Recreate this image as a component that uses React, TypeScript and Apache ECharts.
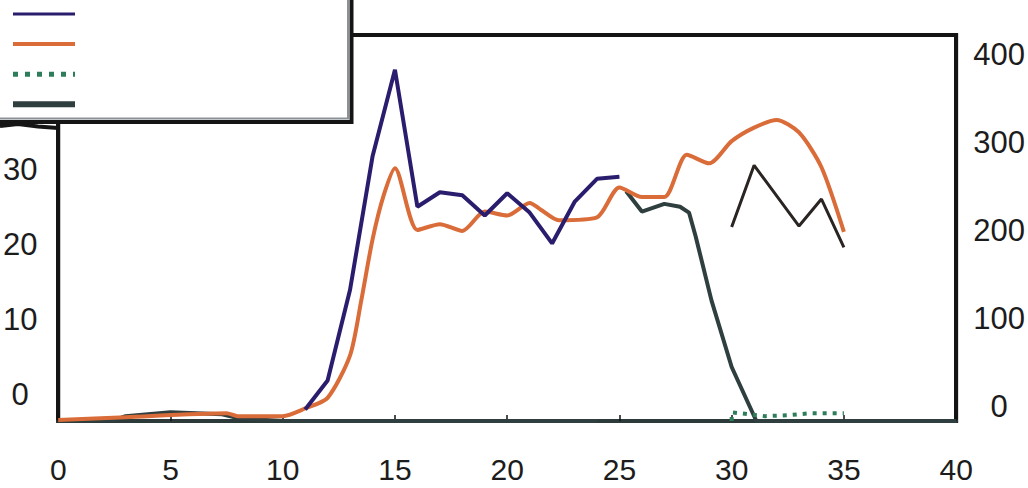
import { useEffect, useRef } from 'react';
import * as echarts from 'echarts';

// ---- data ----
const xLabelValues = [0, 5, 10, 15, 20, 25, 30, 35, 40];
const leftLabelValues = [0, 10, 20, 30, 40];
const rightLabelValues = [0, 100, 200, 300, 400];

const seriesNames = ['Series A', 'Series B', 'Series C', 'Series D', 'Series E'];

const navyX = [11, 12, 13, 14, 15, 16, 17, 18, 19, 20, 21, 22, 23, 24, 25];
const navyY = [12, 42, 136, 274, 364, 222, 237, 234, 213, 236, 216, 184, 227, 251, 253];

const orangeX = [0, 3, 7.5, 8, 10, 11, 12, 13, 13.5, 14, 14.5, 15, 16, 17, 18, 19, 20, 21, 21.5, 22.3, 24, 25, 26, 27, 28, 29, 30, 31, 32, 33, 34, 35];
const orangeY = [1, 4, 8, 5, 5, 13, 24, 68, 125, 188, 234, 262, 198, 204, 197, 217, 213, 226, 219, 208, 211, 242, 232, 232, 276, 267, 290, 304, 312, 299, 263, 196];

const greenX = [30, 30, 31.5, 32.5, 33.5, 35];
const greenY = [0, 9, 5, 6, 8, 8];

const slateX = [0, 2.5, 3, 5, 7.3, 8, 10, 24, 24.5, 25.3, 26, 27, 27.7, 28.1, 28.4, 29.1, 30, 31.1, 35, 40];
const slateY: (number | string)[] = [0, 1, 5, 9, 7, 3, 0, 0, '-', 238, 217, 225, 222, 216, 191, 125, 56, 0, 0, 0];

const blackX = [30, 31, 33, 34, 35];
const blackY = [201, 265, 202, 230, 180];

const pairs = (xs: number[], ys: (number | string)[]) => xs.map((x, i) => [x, ys[i]]);

const FONT = '"Liberation Sans", Arial, Helvetica, sans-serif';

export default function App() {
  const ref = useRef<HTMLDivElement>(null);

  useEffect(() => {
    if (!ref.current) return;
    const chart = echarts.init(ref.current, undefined, { renderer: 'svg' });
    chart.setOption({
      animation: false,
      backgroundColor: '#ffffff',
      grid: {
        left: 58,
        right: 71,
        top: 35,
        bottom: 67,
        show: true,
        borderColor: '#141414',
        borderWidth: 4,
        containLabel: false,
      },
      legend: {
        show: true,
        orient: 'vertical',
        left: 5,
        top: 2,
        itemWidth: 62,
        itemHeight: 14,
        itemGap: 17.5,
        itemStyle: { opacity: 0, borderWidth: 0 },
        data: [
          { name: seriesNames[0], lineStyle: { width: 3 } },
          { name: seriesNames[1], lineStyle: { width: 4 } },
          { name: seriesNames[2], lineStyle: { width: 5, type: [5, 7] } },
          { name: seriesNames[3], lineStyle: { width: 6 } },
        ],
        formatter: () => '',
        z: 120,
      },
      graphic: [
        {
          type: 'rect',
          z: 100,
          shape: { x: -10, y: -10, width: 361.5, height: 132 },
          style: { fill: '#ffffff', stroke: '#151515', lineWidth: 4 },
        },
        {
          type: 'polyline',
          z: 101,
          shape: { points: [[348, 0], [348, 118.5], [0, 118.5]] },
          style: { stroke: '#8b9196', lineWidth: 2, fill: null },
        },
        {
          type: 'polyline',
          z: 100,
          shape: { points: [[0, 126], [18, 124], [38, 126.5], [58, 128]] },
          style: { stroke: '#151515', lineWidth: 4, fill: null },
        },
      ],
      xAxis: {
        type: 'value',
        min: 0,
        max: 40,
        interval: 5,
        axisLine: { show: true, onZero: false, lineStyle: { color: '#2d3a3a', width: 4 } },
        axisTick: { show: true, inside: true, length: 6, lineStyle: { color: '#111', width: 1.5 } },
        axisLabel: {
          customValues: xLabelValues,
          fontSize: 30,
          lineHeight: 26,
          fontFamily: FONT,
          color: '#1c1c1c',
          margin: 35,
        },
        splitLine: { show: false },
      },
      yAxis: [
        {
          type: 'value',
          position: 'left',
          min: -3.6,
          max: 47.87,
          axisLine: { show: true, onZero: false, lineStyle: { color: '#141414', width: 4 } },
          axisTick: { show: false },
          splitLine: { show: false },
          axisLabel: {
            customValues: leftLabelValues,
            fontSize: 31,
            fontFamily: FONT,
            color: '#1c1c1c',
            align: 'center',
            margin: 38,
          },
        },
        {
          type: 'value',
          position: 'right',
          min: -16.3,
          max: 421.8,
          axisLine: { show: true, onZero: false, lineStyle: { color: '#141414', width: 4 } },
          axisTick: { show: false },
          splitLine: { show: false },
          axisLabel: {
            customValues: rightLabelValues,
            fontSize: 31,
            fontFamily: FONT,
            color: '#1c1c1c',
            align: 'center',
            margin: 43,
          },
        },
        {
          type: 'value',
          show: false,
          min: 0,
          max: 400,
        },
      ],
      series: [
        {
          name: seriesNames[3],
          type: 'line',
          yAxisIndex: 2,
          symbol: 'none',
          connectNulls: false,
          data: pairs(slateX, slateY),
          lineStyle: { color: '#2f3e3e', width: 4 },
          itemStyle: { color: '#2f3e3e' },
          z: 2,
        },
        {
          name: seriesNames[1],
          type: 'line',
          yAxisIndex: 2,
          symbol: 'none',
          smooth: 0.25,
          data: pairs(orangeX, orangeY),
          lineStyle: { color: '#d96c38', width: 4 },
          itemStyle: { color: '#d96c38' },
          z: 3,
        },
        {
          name: seriesNames[0],
          type: 'line',
          yAxisIndex: 2,
          symbol: 'none',
          data: pairs(navyX, navyY),
          lineStyle: { color: '#2a1d6e', width: 4 },
          itemStyle: { color: '#2a1d6e' },
          z: 4,
        },
        {
          name: seriesNames[2],
          type: 'line',
          yAxisIndex: 2,
          symbol: 'none',
          data: pairs(greenX, greenY),
          lineStyle: { color: '#2e7d5a', width: 4, type: [4, 6] },
          itemStyle: { color: '#2e7d5a' },
          z: 5,
        },
        {
          name: seriesNames[4],
          type: 'line',
          yAxisIndex: 2,
          symbol: 'none',
          data: pairs(blackX, blackY),
          lineStyle: { color: '#2a2522', width: 3 },
          itemStyle: { color: '#2a2522' },
          z: 5,
        },
      ],
    });
    return () => chart.dispose();
  }, []);

  return (
    <div
      ref={ref}
      style={{ position: 'fixed', left: 0, top: 0, width: 1028, height: 488 }}
    />
  );
}
